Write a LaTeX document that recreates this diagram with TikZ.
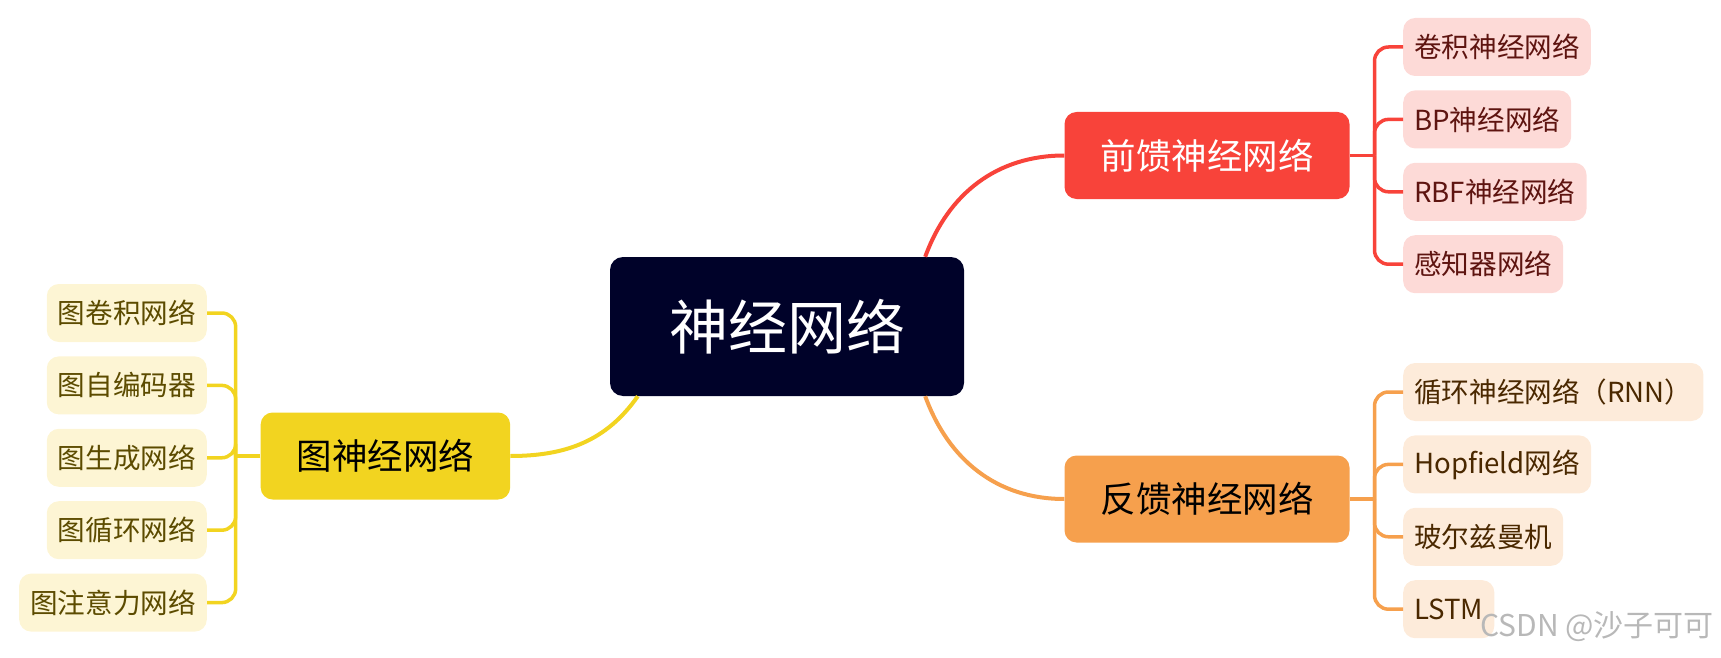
\documentclass[tikz,border=0pt]{standalone}
\usepackage{fontspec}
\setmainfont{Noto Sans CJK SC}
\usetikzlibrary{positioning}

\definecolor{navy}{HTML}{000229}
\definecolor{ffred}{HTML}{F8433A}
\definecolor{ffleaf}{HTML}{FDDAD7}
\definecolor{fftext}{HTML}{5E1410}
\definecolor{fborange}{HTML}{F6A04D}
\definecolor{fbleaf}{HTML}{FDEBDA}
\definecolor{fbtext}{HTML}{4A2800}
\definecolor{gnnyellow}{HTML}{F2D420}
\definecolor{gnnleaf}{HTML}{FDF5D4}
\definecolor{gnntext}{HTML}{5C4B00}

\begin{document}
\begin{tikzpicture}[x=1pt, y=1pt,
  core/.style={fill=navy, text=white, rounded corners=13pt, minimum height=139pt,
    inner xsep=59pt, inner ysep=0pt, font=\fontsize{59}{60}\selectfont},
  topic/.style={rounded corners=12pt, minimum height=87pt, inner xsep=36pt,
    inner ysep=0pt, font=\fontsize{35.5}{36}\selectfont},
  leaf/.style={rounded corners=12pt, minimum height=58pt, inner xsep=11pt,
    inner ysep=0pt, font=\fontsize{27.6}{28}\selectfont},
  link/.style={line width=4pt},
  arm/.style={line width=3.5pt, rounded corners=14pt},
  node distance=14pt
]
\useasboundingbox (0,0) rectangle (1721,-658);

% centre
\node[core] (nn) at (787,-326.5) {神经网络};

% three branches
\node[topic, fill=ffred, text=white] (qiankui) at (1207,-155.5) {前馈神经网络};
\node[topic, fill=fborange, text=black] (fankui) at (1207,-499) {反馈神经网络};
\node[topic, fill=gnnyellow, text=black] (tushen) at (385.4,-456) {图神经网络};

% feed-forward leaves
\node[leaf, fill=ffleaf, text=fftext, anchor=west] (juanji) at (1403,-47) {卷积神经网络};
\node[leaf, fill=ffleaf, text=fftext, below=of juanji.south west, anchor=north west] (bp) {BP神经网络};
\node[leaf, fill=ffleaf, text=fftext, below=of bp.south west, anchor=north west] (rbf) {RBF神经网络};
\node[leaf, fill=ffleaf, text=fftext, below=of rbf.south west, anchor=north west] (ganzhi) {感知器网络};

% feedback leaves
\node[leaf, fill=fbleaf, text=fbtext, anchor=west] (rnn) at (1403,-392) {循环神经网络（RNN）};
\node[leaf, fill=fbleaf, text=fbtext, below=of rnn.south west, anchor=north west] (hopfield) {Hopfield网络};
\node[leaf, fill=fbleaf, text=fbtext, below=of hopfield.south west, anchor=north west] (boltz) {玻尔兹曼机};
\node[leaf, fill=fbleaf, text=fbtext, below=of boltz.south west, anchor=north west] (lstm) {LSTM};

% graph leaves
\node[leaf, fill=gnnleaf, text=gnntext, anchor=east] (gcn) at (207,-313) {图卷积网络};
\node[leaf, fill=gnnleaf, text=gnntext, below=of gcn.south east, anchor=north east] (gae) {图自编码器};
\node[leaf, fill=gnnleaf, text=gnntext, below=of gae.south east, anchor=north east] (ggn) {图生成网络};
\node[leaf, fill=gnnleaf, text=gnntext, below=of ggn.south east, anchor=north east] (grnn) {图循环网络};
\node[leaf, fill=gnnleaf, text=gnntext, below=of grnn.south east, anchor=north east] (gat) {图注意力网络};

% centre to branches
\draw[link, ffred] ([xshift=-39pt]nn.north east) to[out=70, in=180] (qiankui.west);
\draw[link, fborange] ([xshift=-39pt]nn.south east) to[out=-70, in=180] (fankui.west);
\draw[link, gnnyellow] ([xshift=28pt]nn.south west) to[out=-125, in=0] (tushen.east);

% brackets
\coordinate (ftrunk) at (1374.5,-155.5);
\draw[link, line width=3.5pt, ffred] (qiankui.east) -- (ftrunk);
\draw[arm, ffred] (ftrunk) |- (juanji.west);
\draw[arm, ffred] (ftrunk) |- (bp.west);
\draw[arm, ffred] (ftrunk) |- (rbf.west);
\draw[arm, ffred] (ftrunk) |- (ganzhi.west);

\coordinate (btrunk) at (1374.5,-499);
\draw[link, line width=3.5pt, fborange] (fankui.east) -- (btrunk);
\draw[arm, fborange] (btrunk) |- (rnn.west);
\draw[arm, fborange] (btrunk) |- (hopfield.west);
\draw[arm, fborange] (btrunk) |- (boltz.west);
\draw[arm, fborange] (btrunk) |- (lstm.west);

\coordinate (gtrunk) at (235.7,-456);
\draw[link, line width=3.5pt, gnnyellow] (tushen.west) -- (gtrunk);
\draw[arm, gnnyellow] (gtrunk) |- (gcn.east);
\draw[arm, gnnyellow] (gtrunk) |- (gae.east);
\draw[arm, gnnyellow] (gtrunk) |- (ggn.east);
\draw[arm, gnnyellow] (gtrunk) |- (grnn.east);
\draw[arm, gnnyellow] (gtrunk) |- (gat.east);

% watermark
\node[anchor=east, text=black!28, font=\fontsize{30}{31}\selectfont, inner sep=0pt] (mark) at (1714,-627) {CSDN @沙子可可};
\end{tikzpicture}
\end{document}
